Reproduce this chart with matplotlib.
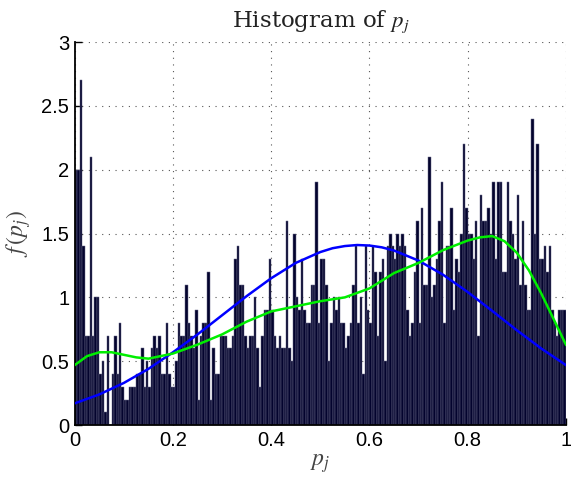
import numpy as np
import matplotlib
matplotlib.use('Agg')
import matplotlib.pyplot as plt

# histogram heights (density), 200 bins over [0, 1]
density = [
    2.0, 2.0, 2.7, 1.4, 0.7, 0.7, 2.1, 0.7, 1.0, 1.0, 0.4, 0.5, 0.1, 0.7, 0.0, 0.4, 0.7,
    0.4, 0.8, 0.3, 0.2, 0.2, 0.3, 0.3, 0.3, 0.4, 0.4, 0.6, 0.3, 0.5, 0.3, 0.6, 0.7, 0.6,
    0.7, 0.4, 0.4, 0.8, 0.4, 0.3, 0.3, 0.5, 0.8, 0.7, 0.7, 1.1, 0.8, 0.7, 0.6, 0.9, 0.2,
    0.7, 0.8, 0.8, 1.2, 0.2, 0.6, 0.4, 0.4, 0.7, 0.7, 0.7, 0.6, 0.6, 0.7,
    1.3, 1.4,
    1.1, 1.1, 0.7, 0.6, 0.7, 0.7, 1.0, 0.6, 0.3, 0.7, 0.9, 0.9, 1.3, 0.9, 0.7, 0.6, 0.7,
    0.6, 0.6, 1.6, 0.6, 0.5, 1.5, 1.0, 0.9, 1.3, 0.9, 0.8, 0.8, 1.1, 1.1, 1.9, 0.8, 1.3,
    1.3, 1.1, 0.5, 0.8, 1.0, 0.9, 1.0, 0.8, 0.8, 0.6, 0.7, 0.8, 1.1, 1.4, 0.8, 1.0, 0.4,
    1.4, 0.9, 0.8, 1.4, 1.2, 0.7, 1.2, 1.3, 0.5, 1.4, 1.5, 1.4, 1.3, 1.5, 1.4, 1.5,
    1.4, 0.9, 0.7, 0.8, 1.2, 1.6, 0.8, 1.7, 1.1, 1.1, 2.1, 1.0, 1.1, 1.3, 1.6, 1.9, 0.8,
    1.4, 1.4, 1.7, 0.9, 1.3, 1.2, 1.5, 2.2, 1.7, 1.5, 1.5, 1.3, 1.6, 0.7, 1.8, 1.6,
    1.6, 1.7, 1.5, 1.9, 1.3, 1.9, 1.9, 1.2, 1.2, 1.9, 1.6, 1.5, 1.3, 1.8, 1.1, 1.6, 1.1,
    0.9, 0.9, 2.4, 1.5, 2.2, 1.3, 1.3, 1.4, 1.2, 1.4, 0.9, 0.8, 0.7, 0.9, 0.9, 0.9,
]

# fitted normal curve (blue)
normal_x = [0.0, 0.05, 0.1, 0.15, 0.2, 0.25, 0.3, 0.35, 0.4, 0.45, 0.5, 0.525,
            0.55, 0.575, 0.6, 0.625, 0.65, 0.7, 0.75, 0.8, 0.85, 0.9, 0.95, 1.0]
normal_y = [0.17, 0.24, 0.33, 0.44, 0.57, 0.71, 0.86, 1.01, 1.15, 1.27, 1.355, 1.385,
            1.402, 1.41, 1.406, 1.392, 1.367, 1.288, 1.177, 1.042, 0.894, 0.743, 0.599, 0.47]

# kernel density estimate (green)
kde_x = [0.0, 0.025, 0.05, 0.075, 0.1, 0.125, 0.15, 0.2, 0.25, 0.3, 0.35, 0.4, 0.45,
         0.5, 0.55, 0.6, 0.65, 0.7, 0.75, 0.8, 0.825, 0.85, 0.875, 0.9, 0.925, 0.95,
         0.975, 1.0]
kde_y = [0.47, 0.54, 0.57, 0.57, 0.55, 0.53, 0.52, 0.56, 0.63, 0.71, 0.81, 0.89, 0.93,
         0.97, 1.00, 1.07, 1.19, 1.27, 1.37, 1.445, 1.47, 1.48, 1.44, 1.35, 1.21, 1.03,
         0.83, 0.63]

xticks = [0, 0.2, 0.4, 0.6, 0.8, 1]
yticks = [0, 0.5, 1, 1.5, 2, 2.5, 3]

plt.rcParams['font.family'] = ['Liberation Sans', 'DejaVu Sans']
plt.rcParams['mathtext.fontset'] = 'stix'

fig = plt.figure(figsize=(5.71, 4.83), dpi=100)
ax = fig.add_axes([0.131, 0.120, 0.86, 0.793])

edges = np.linspace(0, 1, len(density) + 1)
ax.bar(edges[:-1], density, width=edges[1] - edges[0], align='edge',
       color='#03032e', edgecolor='#6a6a88', linewidth=0.35, zorder=2)
ax.plot(normal_x, normal_y, color='#0000ff', linewidth=1.8, zorder=3)
ax.plot(kde_x, kde_y, color='#00ee00', linewidth=1.8, zorder=3)

ax.set_xlim(0, 1)
ax.set_ylim(0, 3)
ax.set_xticks(xticks)
ax.set_yticks(yticks)
ax.set_xticklabels(['%g' % t for t in xticks])
ax.set_yticklabels(['%g' % t for t in yticks])
ax.tick_params(direction='in', length=5, width=1, labelsize=14.5, pad=4)

ax.grid(True, color='#555555', linestyle=(0, (1, 5)), linewidth=0.8, zorder=1)
ax.set_axisbelow(True)
ax.spines['top'].set_visible(False)
ax.spines['right'].set_visible(False)
ax.spines['left'].set_linewidth(1.3)
ax.spines['bottom'].set_linewidth(1.3)

ax.set_title('Histogram of $p_j$', fontsize=16.5, family='serif',
             color='#222222', pad=11)
ax.set_xlabel('$p_j$', fontsize=17, color='#444444', labelpad=2)
ax.set_ylabel('$f\\,(p_j)$', fontsize=17, color='#444444', labelpad=6)

fig.savefig('out.png', dpi=100)
